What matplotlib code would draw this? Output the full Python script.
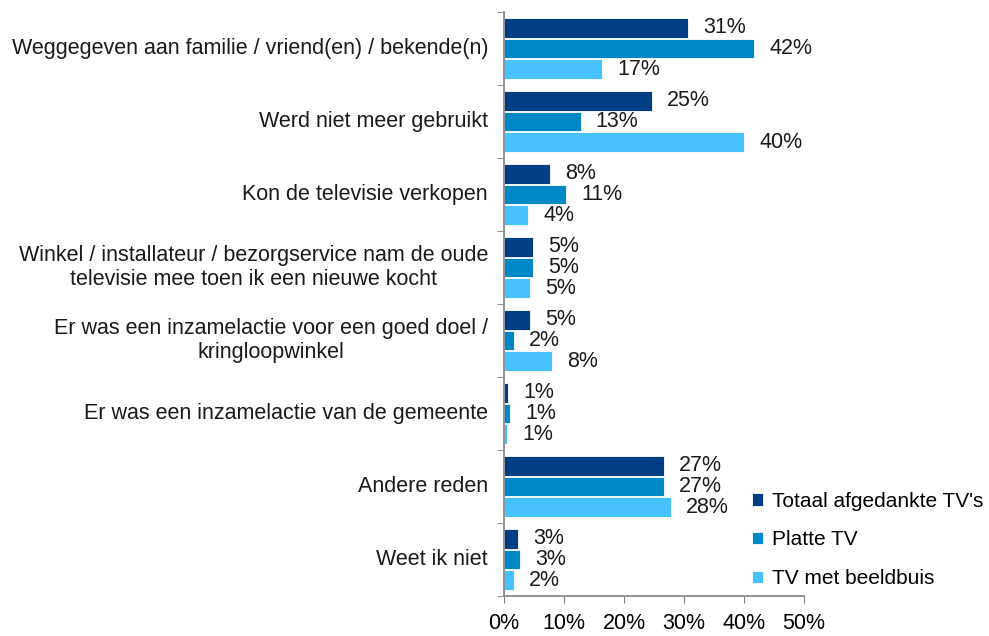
import matplotlib
matplotlib.use("Agg")
import matplotlib.pyplot as plt
import numpy as np

plt.rcParams['font.family'] = ['Liberation Sans', 'DejaVu Sans']

categories = [
    "Weggegeven aan familie / vriend(en) / bekende(n)",
    "Werd niet meer gebruikt",
    "Kon de televisie verkopen",
    "Winkel / installateur / bezorgservice nam de oude\ntelevisie mee toen ik een nieuwe kocht",
    "Er was een inzamelactie voor een goed doel /\nkringloopwinkel",
    "Er was een inzamelactie van de gemeente",
    "Andere reden",
    "Weet ik niet",
]
series_names = ["Totaal afgedankte TV's", "Platte TV", "TV met beeldbuis"]
totaal = [30.7, 24.7, 7.7, 4.8, 4.4, 0.7, 26.7, 2.4]
platte = [41.7, 12.8, 10.4, 4.8, 1.7, 1.0, 26.7, 2.7]
beeldbuis = [16.4, 40.0, 4.0, 4.4, 8.0, 0.5, 27.8, 1.7]
labels_totaal = ["31%", "25%", "8%", "5%", "5%", "1%", "27%", "3%"]
labels_platte = ["42%", "13%", "11%", "5%", "2%", "1%", "27%", "3%"]
labels_beeldbuis = ["17%", "40%", "4%", "5%", "8%", "1%", "28%", "2%"]
xticks = [0, 10, 20, 30, 40, 50]
xticklabels = ["0%", "10%", "20%", "30%", "40%", "50%"]

colors = ["#003E84", "#0087C6", "#47C2FF"]
FS = 15.5

fig = plt.figure(figsize=(9.89, 6.36), dpi=100)
ax = fig.add_axes([504/989, 1 - 596/636, 300/989, 584/636])

n = len(categories)
centers = np.arange(n)
bh = 0.27
step = 0.285
all_vals = [totaal, platte, beeldbuis]
all_labels = [labels_totaal, labels_platte, labels_beeldbuis]
for i, (vals, labs, col, name) in enumerate(zip(all_vals, all_labels, colors, series_names)):
    ys = centers + (i - 1) * step
    ax.barh(ys, vals, height=bh, color=col, edgecolor='white', linewidth=0.6, label=name)
    for y, v, lab in zip(ys, vals, labs):
        ax.annotate(lab, xy=(v, y), xytext=(15, 0), textcoords='offset pixels',
                    ha='left', va='center', fontsize=FS, color='#1a1a1a')

ax.set_ylim(n - 0.5, -0.5)
ax.set_xlim(0, 50)
ax.set_xticks(xticks)
ax.set_xticklabels(xticklabels, fontsize=FS)
ax.set_yticks(centers)
ax.set_yticklabels([])
ax.set_yticks(np.arange(n + 1) - 0.5, minor=True)
ax.tick_params(axis='y', which='major', length=0)
ax.tick_params(axis='y', which='minor', length=5, color='#7f7f7f', direction='out')
ax.tick_params(axis='x', length=5, color='#7f7f7f', direction='out', pad=7)

for sp in ['top', 'right']:
    ax.spines[sp].set_visible(False)
for sp in ['left', 'bottom']:
    ax.spines[sp].set_color('#7f7f7f')
    ax.spines[sp].set_linewidth(1.2)

for c, cat in zip(centers, categories):
    ax.annotate(cat, xy=(0, c), xytext=(-16, 0), textcoords='offset pixels',
                ha='right', va='center', fontsize=FS,
                multialignment='center', color='#1a1a1a')

leg = fig.legend(loc='lower left', bbox_to_anchor=(733/989, 1 - 607/636), frameon=False,
                 fontsize=15, handlelength=0.55, handleheight=0.55, labelspacing=0.95,
                 handletextpad=0.4)

fig.savefig("out.png", dpi=100)
